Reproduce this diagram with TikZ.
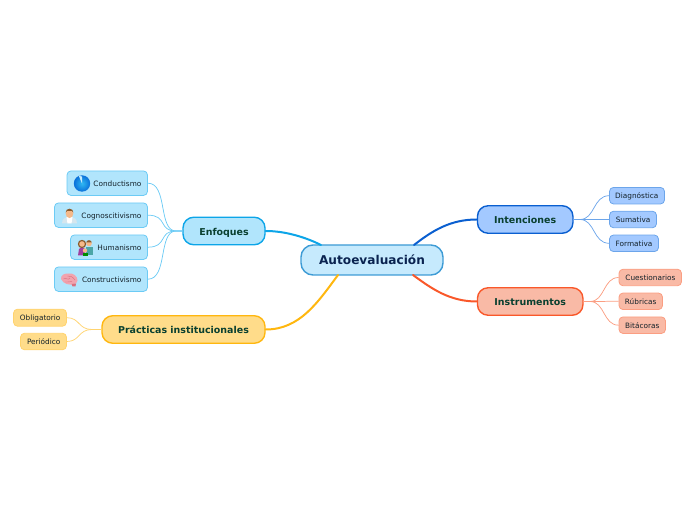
\documentclass[tikz,border=0pt]{standalone}
\usepackage{fontspec}
\setmainfont{DejaVu Sans}
\definecolor{autoF}{HTML}{C6EAFD}\definecolor{autoD}{HTML}{3D9BD5}\definecolor{autoT}{HTML}{0A2350}
\definecolor{enfF}{HTML}{B1E5FC}\definecolor{enfD}{HTML}{0CA5E8}\definecolor{enfL}{HTML}{6CCBF5}
\definecolor{intF}{HTML}{A3C9FF}\definecolor{intD}{HTML}{0A5FD0}\definecolor{intL}{HTML}{6CA5EA}
\definecolor{insF}{HTML}{F9BAA6}\definecolor{insD}{HTML}{F9582A}\definecolor{insL}{HTML}{FB9E82}
\definecolor{praF}{HTML}{FFDC8A}\definecolor{praD}{HTML}{FFB70F}\definecolor{praL}{HTML}{FFD36E}
\definecolor{mainT}{HTML}{0A4030}\definecolor{leafT}{HTML}{14222A}
\definecolor{skin}{HTML}{F5B98A}\definecolor{hairD}{HTML}{8A5A2B}\definecolor{coat}{HTML}{D5E6EE}
\definecolor{brainP}{HTML}{F2A3AE}\definecolor{brainD}{HTML}{D9707F}
\definecolor{ballI}{HTML}{30B8F2}\definecolor{ballO}{HTML}{0A70DA}
\tikzset{
 x=0.75pt,y=-0.75pt,
 box/.style={draw,rounded corners=3pt,inner sep=0pt,minimum height=#1*0.75pt,line width=0.6pt},
 leaftext/.style={text=leafT,font=\fontsize{5.5pt}{7pt}\selectfont,inner sep=0pt,anchor=base east},
 mainbox/.style={draw,rounded corners=8pt,inner sep=0pt,minimum height=27.5*0.75pt,text=mainT,font=\fontsize{7.1pt}{9pt}\selectfont\bfseries,line width=1.05pt,text height=6.2pt,text depth=0pt},
 trunk/.style={line width=1.5pt,line cap=round},
 twig/.style={line width=0.55pt},
}
\newcommand{\lf}[8]{% name, x1, x2, ymid, h, fill, draw, text
 \node[box=#5,fill=#6,draw=#7,minimum width={(#3-#2)*0.75pt}] (#1) at ({(#2+#3)/2},#4) {};
 \node[leaftext] (#1t) at ({#3-5.8},{#4+2.9}) {#8};
}
\begin{document}
\begin{tikzpicture}
\useasboundingbox (0,0) rectangle (696,520);
\node[mainbox,fill=autoF,draw=autoD,rounded corners=9pt,minimum width=142*0.75pt,minimum height=30*0.75pt,text=autoT,font=\fontsize{9.1pt}{11pt}\selectfont\bfseries,text height=6.9pt] (auto) at (372,260) {Autoevaluación};
\node[mainbox,fill=enfF,draw=enfD,minimum width=82*0.75pt] (enf) at (224,231) {Enfoques};
\node[mainbox,fill=intF,draw=intD,minimum width=95.5*0.75pt] (int) at (525.2,219.5) {Intenciones};
\node[mainbox,fill=insF,draw=insD,minimum width=105.5*0.75pt] (ins) at (530.2,301.5) {Instrumentos};
\node[mainbox,fill=praF,draw=praD,minimum width=163*0.75pt] (pra) at (183.5,329.5) {Prácticas institucionales};
\coordinate (aNW) at (321,245);
\coordinate (aNE) at (414,245);
\coordinate (aSW) at (338,275);
\coordinate (aSE) at (413,275);
\draw[trunk,enfD] (enf.east) .. controls (285,231) and (305,237) .. (aNW);
\draw[trunk,intD] (int.west) .. controls (450,219.5) and (432,231) .. (aNE);
\draw[trunk,insD] (ins.west) .. controls (450,301.5) and (432,289) .. (aSE);
\draw[trunk,praD] (pra.east) .. controls (300,329.5) and (318,302) .. (aSW);
% leaves
\lf{con}{67}{147.5}{183.2}{24.5}{enfF}{enfL}{Conductismo}
\lf{cog}{54.5}{147.5}{215.2}{24.5}{enfF}{enfL}{Cognoscitivismo}
\lf{hum}{70.5}{147.5}{247.2}{24.5}{enfF}{enfL}{Humanismo}
\lf{cns}{54.5}{147.5}{279.2}{24.5}{enfF}{enfL}{Constructivismo}
\lf{obl}{13.5}{66.5}{317.7}{17}{praF}{praL}{Obligatorio}
\lf{per}{20.5}{66.5}{341.5}{16.5}{praF}{praL}{Periódico}
\lf{dia}{609.5}{664.5}{195.7}{16.5}{intF}{intL}{Diagnóstica}
\lf{sum}{609.5}{656.5}{219.5}{16.5}{intF}{intL}{Sumativa}
\lf{for}{609.5}{658.5}{243.3}{16.5}{intF}{intL}{Formativa}
\lf{cue}{619}{681.5}{277.5}{16.5}{insF}{insL}{Cuestionarios}
\lf{rub}{619}{662.5}{301.3}{16.5}{insF}{insL}{Rúbricas}
\lf{bit}{619}{665.5}{325.2}{16.5}{insF}{insL}{Bitácoras}
% twigs
\coordinate (jEnf) at (176,231);
\coordinate (jPra) at (92,329.5);
\coordinate (jInt) at (580,219.5);
\coordinate (jIns) at (590,301.5);
\foreach \n/\yy in {con/183.2,cog/215.2,hum/247.2,cns/279.2}
 \draw[twig,enfL] (\n.east) .. controls (168,\yy) and (158,231) .. (jEnf) -- (enf.west);
\foreach \n/\yy in {obl/317.7,per/341.5}
 \draw[twig,praL] (\n.east) .. controls (80,\yy) and (78,329.5) .. (jPra) -- (pra.west);
\foreach \n/\yy in {dia/195.7,sum/219.5,for/243.3}
 \draw[twig,intL] (int.east) -- (jInt) .. controls (595,219.5) and (593,\yy) .. (\n.west);
\foreach \n/\yy in {cue/277.5,rub/301.3,bit/325.2}
 \draw[twig,insL] (ins.east) -- (jIns) .. controls (605,301.5) and (603,\yy) .. (\n.west);
% icon: pie ball
\shade[inner color=ballI,outer color=ballO] (82,183.5) circle (8.2);
\fill[enfF!70!white] (82,183.5) -- (78.8,175.9) arc[start angle=113,end angle=90,radius=8.2] -- cycle;
% icon: doctor
\fill[coat] (62,223.5) .. controls (62,218.5) and (65,218) .. (67,217) -- (72,217) .. controls (74,218) and (77,218.5) .. (77,223.5) -- cycle;
\fill[white] (66.5,217) -- (72.5,217) -- (71.5,223.5) -- (67.5,223.5) -- cycle;
\fill[skin] (69.5,213.5) ellipse (3.8 and 4.6);
\fill[hairD] (65.6,212.5) .. controls (65.6,207.5) and (73.4,207.5) .. (73.4,212.5) -- (72,211) -- (67,211) -- cycle;
% icon: family
\fill[hairD] (82,244) circle (4.2);
\fill[skin] (82,244) circle (2.8);
\fill[violet!75!white] (78,255.5) -- (79,249) .. controls (80,247.5) and (84,247.5) .. (85,249) -- (85,254) -- (84,255.5) -- cycle;
\fill[skin] (89,243.5) circle (2.8);
\fill[hairD] (86.2,242.5) .. controls (86.5,239.5) and (91.5,239.5) .. (91.8,242.5) -- cycle;
\fill[teal!70!white] (85.5,247.5) -- (92.5,247.5) -- (92.5,255.5) -- (85.5,255.5) -- cycle;
\fill[skin] (85,250.5) circle (2.2);
\fill[green!55!black] (82.5,253) rectangle (87.5,256);
% icon: brain
\fill[brainP] (61,279) .. controls (60.5,275) and (65,273) .. (69,273.5) .. controls (73,273) and (77.5,276) .. (77.5,280.5) .. controls (77.5,283) and (75.5,284) .. (73.5,284) .. controls (70,285.5) and (63.5,284.5) .. (61,279) -- cycle;
\fill[brainD] (71.5,284) -- (76,283.5) -- (75.5,286.5) -- (72.5,286.5) -- cycle;
\draw[brainD,line width=0.3pt] (63.5,279) .. controls (66,277) and (68,281) .. (70,278) (67.5,276) .. controls (70,275.5) and (73,277) .. (75,280) (65,282) .. controls (67,281) and (70,283) .. (72,281.5);
\end{tikzpicture}
\end{document}
